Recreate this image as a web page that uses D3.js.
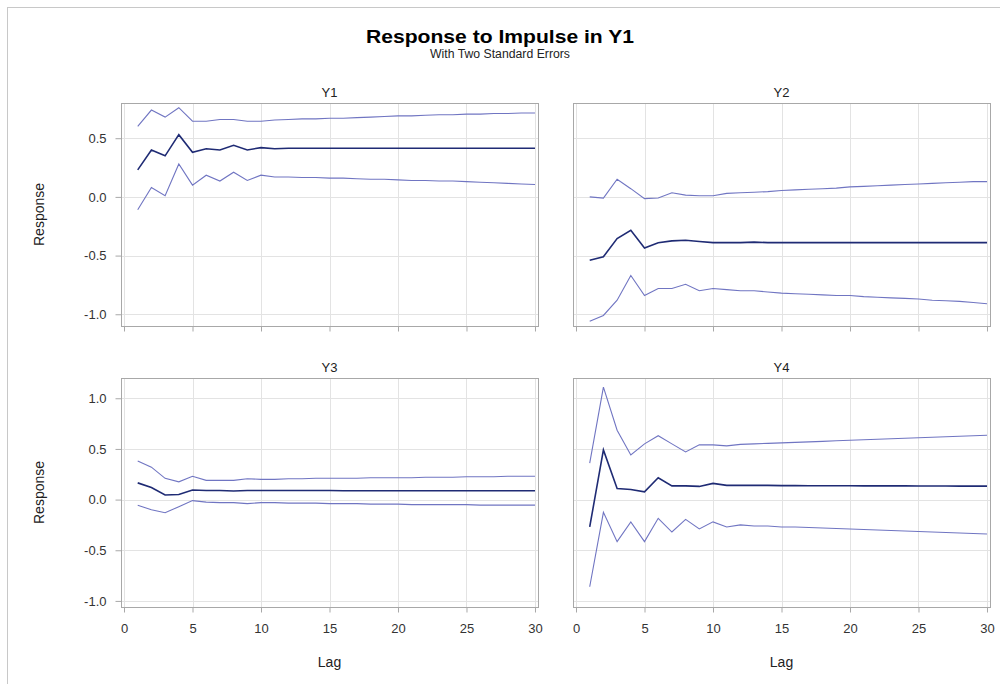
<!DOCTYPE html>
<html><head><meta charset="utf-8">
<script src="https://cdn.jsdelivr.net/npm/d3@7"></script>
<style>body{margin:0;background:#fff;} svg{display:block;font-family:"Liberation Sans",Arial,sans-serif;}</style>
</head><body><svg id="c" width="1000" height="684"></svg>
<script>
// ---- data ----
const lags = [1,2,3,4,5,6,7,8,9,10,11,12,13,14,15,16,17,18,19,20,21,22,23,24,25,26,27,28,29,30];
const panelNames = ["Y1","Y2","Y3","Y4"];

const y1Resp  = [0.23,0.40,0.35,0.53,0.38,0.41,0.40,0.44,0.40,0.42,0.41,0.415,0.415,0.415,0.415,0.415,0.415,0.415,0.415,0.415,0.415,0.415,0.415,0.415,0.415,0.415,0.415,0.415,0.415,0.415];
const y1Upper = [0.60,0.74,0.68,0.76,0.645,0.645,0.66,0.66,0.645,0.645,0.655,0.66,0.665,0.665,0.67,0.67,0.675,0.68,0.685,0.69,0.69,0.695,0.70,0.70,0.705,0.705,0.71,0.71,0.715,0.715];
const y1Lower = [-0.11,0.08,0.01,0.28,0.10,0.185,0.135,0.21,0.14,0.185,0.17,0.17,0.165,0.165,0.16,0.16,0.155,0.15,0.15,0.145,0.14,0.14,0.135,0.135,0.13,0.125,0.12,0.115,0.11,0.105];

const y2Resp  = [-0.54,-0.51,-0.355,-0.285,-0.435,-0.39,-0.375,-0.37,-0.38,-0.39,-0.39,-0.39,-0.385,-0.39,-0.39,-0.39,-0.39,-0.39,-0.39,-0.39,-0.39,-0.39,-0.39,-0.39,-0.39,-0.39,-0.39,-0.39,-0.39,-0.39];
const y2Upper = [0.0,-0.01,0.15,0.07,-0.015,-0.01,0.035,0.015,0.01,0.01,0.03,0.035,0.04,0.045,0.055,0.06,0.065,0.07,0.075,0.085,0.09,0.095,0.10,0.105,0.11,0.115,0.12,0.125,0.13,0.13];
const y2Lower = [-1.06,-1.01,-0.88,-0.67,-0.84,-0.78,-0.78,-0.745,-0.80,-0.78,-0.79,-0.80,-0.80,-0.81,-0.82,-0.825,-0.83,-0.835,-0.84,-0.84,-0.85,-0.855,-0.86,-0.865,-0.87,-0.88,-0.885,-0.89,-0.90,-0.91];

const y3Resp  = [0.165,0.12,0.045,0.05,0.095,0.09,0.09,0.085,0.09,0.09,0.09,0.09,0.09,0.09,0.09,0.088,0.088,0.088,0.088,0.088,0.088,0.088,0.087,0.087,0.087,0.087,0.087,0.087,0.087,0.087];
const y3Upper = [0.38,0.32,0.21,0.175,0.23,0.19,0.19,0.19,0.205,0.2,0.2,0.205,0.205,0.21,0.21,0.21,0.21,0.215,0.215,0.215,0.215,0.22,0.22,0.22,0.225,0.225,0.225,0.23,0.23,0.23];
const y3Lower = [-0.055,-0.10,-0.13,-0.07,-0.01,-0.025,-0.03,-0.03,-0.04,-0.03,-0.03,-0.035,-0.035,-0.035,-0.04,-0.04,-0.04,-0.045,-0.045,-0.045,-0.05,-0.05,-0.05,-0.05,-0.05,-0.055,-0.055,-0.055,-0.055,-0.055];

const y4Resp  = [-0.27,0.49,0.11,0.10,0.077,0.215,0.135,0.135,0.13,0.16,0.14,0.14,0.14,0.14,0.138,0.138,0.137,0.137,0.136,0.136,0.135,0.135,0.135,0.135,0.134,0.134,0.134,0.133,0.133,0.133];
const y4Upper = [0.36,1.11,0.685,0.44,0.55,0.63,0.55,0.47,0.54,0.54,0.53,0.545,0.55,0.555,0.56,0.565,0.57,0.575,0.58,0.585,0.59,0.595,0.60,0.605,0.61,0.615,0.62,0.625,0.63,0.635];
const y4Lower = [-0.86,-0.126,-0.415,-0.22,-0.415,-0.185,-0.32,-0.195,-0.29,-0.22,-0.27,-0.25,-0.26,-0.26,-0.27,-0.27,-0.275,-0.28,-0.285,-0.29,-0.295,-0.30,-0.305,-0.31,-0.315,-0.32,-0.325,-0.33,-0.335,-0.34];

const xTicks = [0,5,10,15,20,25,30];
const yTicksTop = [-1.0,-0.5,0.0,0.5];
const yTicksBottom = [-1.0,-0.5,0.0,0.5,1.0];

const titleText = "Response to Impulse in Y1";
const subtitleText = "With Two Standard Errors";
const yLabel = "Response";
const xLabel = "Lag";

// ---- layout ----
const colX = [[121,538],[573,990]];
const rowY = [[103,326],[378,607]];
const xDomain = [-0.22,30.22];
const yDomains = [[-1.10,0.80],[-1.06,1.20]];
const yTicksRow = [yTicksTop, yTicksBottom];

const panels = [
  {name:panelNames[0], resp:y1Resp, upper:y1Upper, lower:y1Lower, col:0,row:0},
  {name:panelNames[1], resp:y2Resp, upper:y2Upper, lower:y2Lower, col:1,row:0},
  {name:panelNames[2], resp:y3Resp, upper:y3Upper, lower:y3Lower, col:0,row:1},
  {name:panelNames[3], resp:y4Resp, upper:y4Upper, lower:y4Lower, col:1,row:1}
];

const svg = d3.select("#c");
svg.append("rect").attr("x",7.5).attr("y",7.5).attr("width",1000).attr("height",700)
  .attr("fill","#fff").attr("stroke","#c8c8c8");

svg.append("text").attr("x",500).attr("y",43).attr("text-anchor","middle")
  .attr("font-size",18).attr("font-weight","bold").attr("fill","#000")
  .attr("textLength",268).attr("lengthAdjust","spacingAndGlyphs").text(titleText);
svg.append("text").attr("x",500).attr("y",58).attr("text-anchor","middle")
  .attr("font-size",12).attr("fill","#222")
  .attr("textLength",140).attr("lengthAdjust","spacingAndGlyphs").text(subtitleText);

const fmt = d => d.toFixed(1);
const gridC = "#e3e3e3", frameC = "#a8a8a8";

panels.forEach(p => {
  const [x0,x1] = colX[p.col], [t,b] = rowY[p.row];
  const x = d3.scaleLinear().domain(xDomain).range([x0,x1]);
  const y = d3.scaleLinear().domain(yDomains[p.row]).range([b,t]);
  const g = svg.append("g");
  // grid
  g.selectAll(".gy").data(yTicksRow[p.row]).enter().append("line")
    .attr("x1",x0).attr("x2",x1).attr("y1",d=>Math.round(y(d))+0.5).attr("y2",d=>Math.round(y(d))+0.5)
    .attr("stroke",gridC);
  g.selectAll(".gx").data(xTicks).enter().append("line")
    .attr("y1",t).attr("y2",b).attr("x1",d=>Math.round(x(d))+0.5).attr("x2",d=>Math.round(x(d))+0.5)
    .attr("stroke",gridC);
  // lines
  const line = arr => d3.line().x((d,i)=>x(lags[i])).y(d=>y(d))(arr);
  g.append("path").attr("d",line(p.upper)).attr("fill","none").attr("stroke","#7075c2").attr("stroke-width",1.1);
  g.append("path").attr("d",line(p.lower)).attr("fill","none").attr("stroke","#7075c2").attr("stroke-width",1.1);
  g.append("path").attr("d",line(p.resp)).attr("fill","none").attr("stroke","#1f2b74").attr("stroke-width",1.6);
  // frame
  g.append("rect").attr("x",x0+0.5).attr("y",t+0.5).attr("width",x1-x0).attr("height",b-t)
    .attr("fill","none").attr("stroke",frameC);
  // panel title
  svg.append("text").attr("x",(x0+x1)/2).attr("y",t-6).attr("text-anchor","middle")
    .attr("font-size",13).attr("fill","#222").text(p.name);
  // y axis
  if (p.col===0) {
    const ya = svg.append("g").attr("transform",`translate(${x0+0.5},0)`)
      .call(d3.axisLeft(y).tickValues(yTicksRow[p.row]).tickFormat(fmt).tickSize(6).tickPadding(9));
    ya.select(".domain").remove();
    ya.selectAll("line").attr("stroke",frameC);
    ya.selectAll("text").attr("font-size",13).attr("fill","#333").attr("font-family","Liberation Sans, Arial, sans-serif");
    svg.append("text").attr("transform",`translate(44,${(t+b)/2}) rotate(-90)`).attr("text-anchor","middle")
      .attr("font-size",14).attr("fill","#222").text(yLabel);
  }
  // x axis
  const xa = svg.append("g").attr("transform",`translate(0,${b+0.5})`)
    .call(d3.axisBottom(x).tickValues(xTicks).tickFormat(p.row===1 ? d=>String(d) : "").tickSize(5).tickPadding(11));
  xa.select(".domain").remove();
  xa.selectAll("line").attr("stroke",frameC);
  xa.selectAll("text").attr("font-size",13).attr("fill","#333").attr("font-family","Liberation Sans, Arial, sans-serif");
  if (p.row===1) {
    svg.append("text").attr("x",(x0+x1)/2).attr("y",667).attr("text-anchor","middle")
      .attr("font-size",14).attr("fill","#222").text(xLabel);
  }
});
</script></body></html>
